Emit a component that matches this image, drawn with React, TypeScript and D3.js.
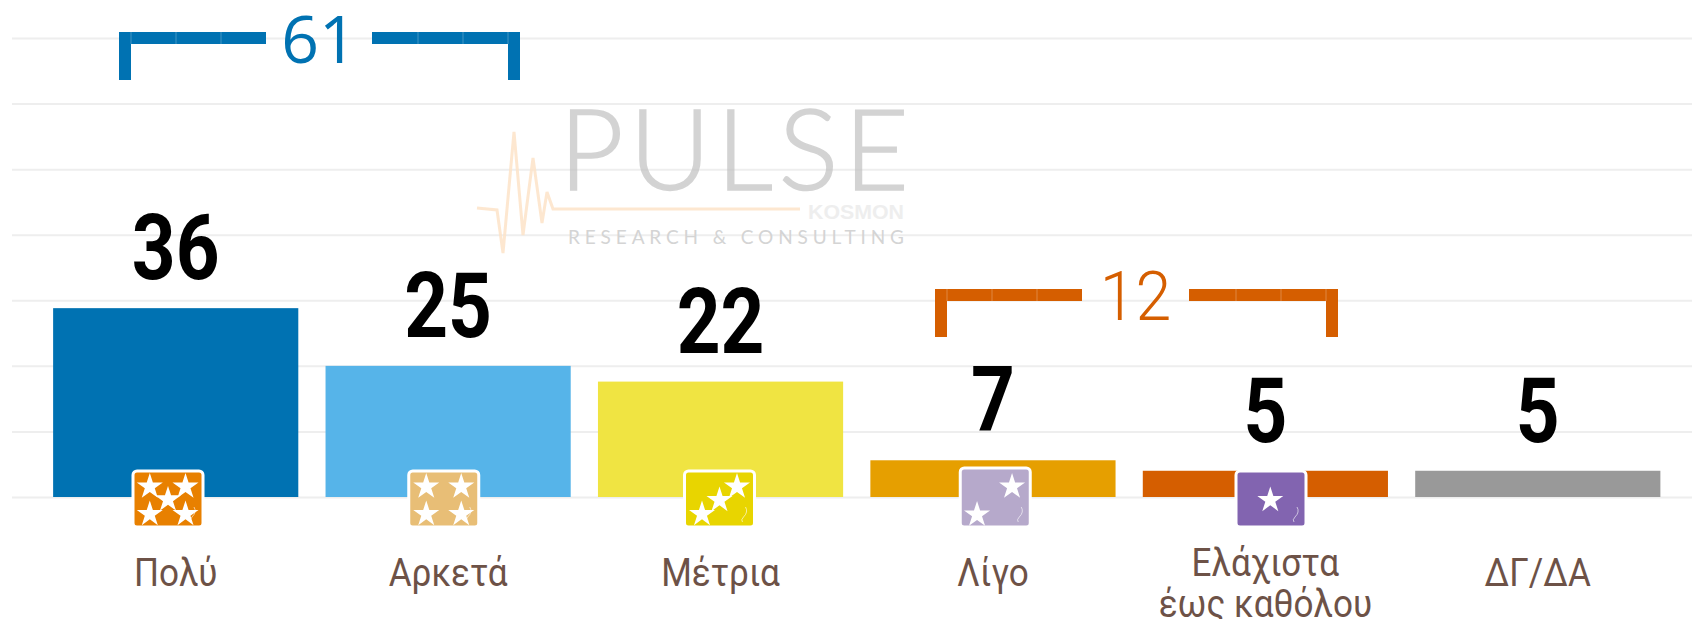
import { useEffect, useRef } from 'react'
import * as d3 from 'd3'

const WIDTH = 1692
const HEIGHT = 619

const CATEGORIES = ['Πολύ', 'Αρκετά', 'Μέτρια', 'Λίγο', 'Ελάχιστα|έως καθόλου', 'ΔΓ/ΔΑ']
const VALUES = [36, 25, 22, 7, 5, 5]
const BAR_COLORS = ['#0072b2', '#56b4e9', '#f0e442', '#e69f00', '#d55e00', '#999999']
const GRID_TICKS = [0, 12.5, 25, 37.5, 50, 62.5, 75, 87.5]

const ICON_COLORS = ['#e88000', '#e8be76', '#e8d500', '#b6a9cb', '#8264b0']
const ICON_TOPS = [471, 471, 471, 468, 471]
// star centres inside each badge, as fractions of the badge box
const ICON_STARS = [
  [[0.24, 0.28], [0.75, 0.28], [0.5, 0.51], [0.24, 0.77], [0.75, 0.77]],
  [[0.25, 0.28], [0.75, 0.28], [0.25, 0.77], [0.75, 0.77]],
  [[0.25, 0.77], [0.5, 0.52], [0.75, 0.28]],
  [[0.74, 0.28], [0.24, 0.78]],
  [[0.49, 0.52]],
]

const GROUPS = [
  { label: '61', color: '#0072b2', from: 119, to: 520, top: 38, font: 'Open Sans', weight: 400, size: 66, sx: 1, leftEnd: 266, rightStart: 372 },
  { label: '12', color: '#d55e00', from: 935, to: 1338, top: 295, font: 'Roboto', weight: 300, size: 68, sx: 0.95, leftEnd: 1082, rightStart: 1189 },
]

const PULSE_LINE = [[477, 208], [497, 210], [503, 253], [514, 132], [523, 235], [533, 158], [542, 223], [547, 192], [553, 209], [800, 209]]

export default function App() {
  const svgRef = useRef<SVGSVGElement>(null)

  useEffect(() => {
    const svg = d3.select(svgRef.current)
    svg.selectAll('*').remove()

    const x = d3.scaleBand<number>().domain(d3.range(VALUES.length)).range([39.5, 1674]).paddingInner(0.1).paddingOuter(0.05)
    const y = d3.scaleLinear().domain([0, 87.5]).range([497, 38])
    const iconX = d3.scalePoint<number>().domain(d3.range(ICON_COLORS.length)).range([168, 1271])

    // Gridlines
    svg.append('g')
      .attr('transform', 'translate(12,0)')
      .call(d3.axisLeft(y).tickValues(GRID_TICKS).tickSize(-(WIDTH - 12)).tickFormat(() => ''))
      .call(g => g.select('.domain').remove())
      .call(g => g.selectAll('.tick line').attr('stroke', '#eeeeee').attr('stroke-width', 2))

    // Watermark
    const wm = svg.append('g')
    wm.append('path')
      .attr('d', d3.line()(PULSE_LINE as [number, number][]))
      .attr('fill', 'none').attr('stroke', '#fde3c8').attr('stroke-width', 3).attr('opacity', 0.85)
    wm.append('text').attr('x', 559).attr('y', 190).attr('font-family', 'Lato').attr('font-size', 112).attr('font-weight', 300)
      .attr('fill', '#bdbdbd').attr('stroke', '#bdbdbd').attr('stroke-width', 1.5).attr('opacity', 0.65)
      .attr('textLength', 350).attr('lengthAdjust', 'spacing').text('PULSE')
    wm.append('text').attr('x', 808).attr('y', 219).attr('font-family', 'Liberation Sans').attr('font-size', 20).attr('font-weight', 700)
      .attr('fill', '#eeeeee').attr('textLength', 96).attr('lengthAdjust', 'spacingAndGlyphs').text('KOSMON')
    wm.append('text').attr('x', 568).attr('y', 244).attr('font-family', 'Lato').attr('font-size', 19)
      .attr('fill', '#d4d4d4').attr('textLength', 336).attr('lengthAdjust', 'spacing').text('RESEARCH & CONSULTING')

    // Bars
    svg.append('g').selectAll('rect').data(VALUES).join('rect')
      .attr('x', (_, i) => x(i)!)
      .attr('width', x.bandwidth())
      .attr('y', d => y(d))
      .attr('height', d => y(0) - y(d))
      .attr('fill', (_, i) => BAR_COLORS[i])

    // Value labels
    svg.append('g').selectAll('text').data(VALUES).join('text')
      .attr('transform', (d, i) => `translate(${x(i)! + x.bandwidth() / 2},${y(d) - 29}) scale(0.85,1)`)
      .attr('text-anchor', 'middle')
      .attr('font-family', 'Roboto').attr('font-weight', 700).attr('font-size', 90)
      .attr('fill', '#000')
      .text(d => d)

    // Category labels
    const labels = svg.append('g')
    CATEGORIES.forEach((cat, i) => {
      const lines = cat.split('|')
      const y0 = lines.length > 1 ? 576 : 586
      lines.forEach((line, k) => {
        labels.append('text')
          .attr('transform', `translate(${x(i)! + x.bandwidth() / 2},${y0 + k * 41}) scale(0.9,1)`)
          .attr('text-anchor', 'middle')
          .attr('font-family', 'Roboto').attr('font-size', 39)
          .attr('fill', '#6d5247')
          .text(line)
      })
    })

    // Star badges
    const star = d3.symbol().type(d3.symbolStar).size(210)
    const BADGE_W = 70
    const BADGE_H = 56
    ICON_COLORS.forEach((color, i) => {
      const bx = iconX(i)! - BADGE_W / 2
      const by = ICON_TOPS[i]
      const h = BADGE_H + 471 - by
      const g = svg.append('g')
      g.append('rect').attr('x', bx).attr('y', by).attr('width', BADGE_W).attr('height', h).attr('rx', 4)
        .attr('fill', color).attr('stroke', '#fff').attr('stroke-width', 3)
      ICON_STARS[i].forEach(([fx, fy]) => {
        g.append('path').attr('d', star()!)
          .attr('transform', `translate(${bx + fx * BADGE_W},${471 + fy * BADGE_H})`)
          .attr('fill', '#fff')
      })
      // small faint mark in the corner of the badge
      g.append('path')
        .attr('d', `M${bx + BADGE_W - 9},${471 + BADGE_H - 20} q3,5 -2,10 q-3,3 -1,5`)
        .attr('fill', 'none').attr('stroke', '#fff').attr('stroke-width', 1).attr('opacity', 0.6)
    })

    // Group brackets
    GROUPS.forEach(b => {
      const g = svg.append('g')
      const sw = 12
      const drop = 36
      g.append('path')
        .attr('d', `M${b.from + sw / 2},${b.top + drop + 6} V${b.top} H${b.leftEnd}`)
        .attr('fill', 'none').attr('stroke', b.color).attr('stroke-width', sw)
      g.append('path')
        .attr('d', `M${b.to - sw / 2},${b.top + drop + 6} V${b.top} H${b.rightStart}`)
        .attr('fill', 'none').attr('stroke', b.color).attr('stroke-width', sw)
      // hairline joins between the dash pieces
      const pieces = 3
      d3.range(pieces).forEach(k => {
        const seg = (b.leftEnd - b.from - sw) / pieces
        ;[b.from + sw + k * seg, b.to - sw - k * seg].forEach(px => {
          g.append('line').attr('x1', px).attr('x2', px).attr('y1', b.top - sw / 2).attr('y2', b.top + sw / 2)
            .attr('stroke', '#fff').attr('stroke-width', 1).attr('opacity', 0.25)
        })
      })
      g.append('text')
        .attr('transform', `translate(${(b.leftEnd + b.rightStart) / 2},${b.top + 25}) scale(${b.sx},1)`)
        .attr('text-anchor', 'middle')
        .attr('font-family', b.font).attr('font-weight', b.weight).attr('font-size', b.size)
        .attr('fill', b.color)
        .text(b.label)
    })
  }, [])

  return (
    <svg
      ref={svgRef}
      width={WIDTH}
      height={HEIGHT}
      style={{ position: 'absolute', left: 0, top: 0, display: 'block', background: '#fff' }}
    />
  )
}
